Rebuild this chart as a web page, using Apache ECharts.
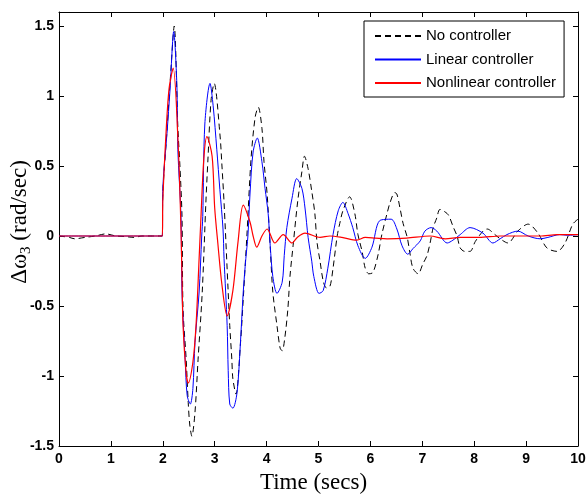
<!DOCTYPE html>
<html><head><meta charset="utf-8">
<script src="https://cdn.jsdelivr.net/npm/echarts@6/dist/echarts.min.js"></script>
<style>html,body{margin:0;padding:0;background:#fff}#c{width:586px;height:494px}</style>
</head><body><div id="c"></div>
<script>
// Tick values
const xTicks = [0,1,2,3,4,5,6,7,8,9,10];
const yTicks = [-1.5,-1,-0.5,0,0.5,1,1.5];
const seriesNames = ['No controller','Linear controller','Nonlinear controller'];

// No controller (black dashed)
const noCtrlT = [0,0.2,0.3,0.5,0.7,0.9,1.1,1.3,1.45,1.6,1.8,1.99,2.0,2.08,2.15,2.22,2.29,2.33,2.37,2.39,2.45,2.49,2.52,2.56,2.62,2.68,2.76,2.83,2.87,2.93,2.99,3.1,3.14,3.18,3.26,3.29,3.33,3.35,3.41,3.5,3.55,3.62,3.7,3.78,3.84,3.91,3.95,4.01,4.07,4.12,4.2,4.26,4.3,4.35,4.41,4.45,4.51,4.6,4.68,4.73,4.8,4.87,4.93,4.97,5.03,5.09,5.15,5.22,5.28,5.36,5.41,5.47,5.6,5.7,5.76,5.84,5.9,5.97,6.05,6.15,6.22,6.32,6.38,6.47,6.51,6.57,6.63,6.71,6.76,6.82,6.92,7.01,7.09,7.15,7.21,7.28,7.34,7.48,7.53,7.59,7.67,7.73,7.82,7.92,8.02,8.17,8.25,8.4,8.5,8.65,8.84,9.04,9.23,9.4,9.6,9.75,9.9,10];
const noCtrlV = [0,-0.01,-0.02,-0.01,0,0.015,0,-0.005,-0.01,0,0,0,0.3,0.75,1.15,1.5,0.78,0.5,0.14,-0.52,-0.88,-1.19,-1.35,-1.43,-1.26,-0.88,-0.4,0.24,0.55,0.97,1.09,0.73,0.5,0.24,-0.4,-0.64,-0.88,-1.02,-1.13,-0.75,-0.45,0.0,0.55,0.85,0.92,0.77,0.53,0.3,-0.08,-0.4,-0.64,-0.8,-0.82,-0.73,-0.52,-0.29,-0.07,0.25,0.46,0.57,0.48,0.32,0.16,-0.04,-0.18,-0.32,-0.37,-0.36,-0.23,0.0,0.09,0.18,0.28,0.16,0.01,-0.11,-0.23,-0.27,-0.26,-0.13,0.01,0.16,0.24,0.31,0.3,0.2,0.09,-0.01,-0.12,-0.23,-0.27,-0.2,-0.14,-0.05,0.06,0.13,0.19,0.16,0.13,0.07,0.0,-0.085,-0.11,-0.11,-0.04,0.035,0.05,0.01,-0.02,-0.05,0.035,0.085,0.02,-0.085,-0.11,-0.05,0.085,0.12];

// Linear controller (blue)
const linT = [0,1.99,2.0,2.08,2.14,2.21,2.27,2.29,2.35,2.37,2.43,2.47,2.53,2.58,2.62,2.7,2.75,2.77,2.81,2.91,2.97,3.04,3.1,3.16,3.18,3.24,3.26,3.29,3.35,3.43,3.49,3.55,3.6,3.64,3.68,3.74,3.82,3.91,3.97,4.03,4.07,4.12,4.2,4.3,4.34,4.39,4.49,4.58,4.68,4.74,4.8,4.87,4.91,5.01,5.09,5.18,5.28,5.38,5.47,5.57,5.66,5.76,5.9,6.03,6.18,6.4,6.51,6.61,6.72,6.82,6.96,7.05,7.17,7.28,7.48,7.59,7.73,7.92,8.17,8.36,8.5,8.63,8.84,9.04,9.27,9.42,9.65,9.8,10];
const linV = [0,0,0.34,0.73,1.05,1.46,1.09,0.62,0.14,-0.4,-0.88,-1.14,-1.2,-1.09,-0.76,-0.4,0.0,0.14,0.8,1.09,0.93,0.62,0.33,0.05,-0.16,-0.64,-0.96,-1.2,-1.23,-1.12,-0.8,-0.4,-0.16,0.0,0.3,0.6,0.7,0.53,0.34,0.16,-0.07,-0.29,-0.41,-0.33,-0.14,0.06,0.27,0.41,0.34,0.2,-0.01,-0.18,-0.29,-0.41,-0.39,-0.23,0.01,0.18,0.24,0.16,0.06,-0.07,-0.16,-0.08,0.11,0.12,0.05,-0.07,-0.13,-0.09,-0.035,0.035,0.06,0.035,-0.05,-0.03,0.01,0.06,0.02,-0.05,-0.02,0.01,0.035,0.0,-0.02,-0.01,0.01,0.005,0.01];

// Nonlinear controller (red)
const nlT = [0,1.99,2.0,2.06,2.12,2.2,2.3,2.35,2.37,2.39,2.45,2.49,2.58,2.64,2.7,2.73,2.79,2.85,2.95,3.0,3.06,3.14,3.24,3.35,3.45,3.55,3.68,3.74,3.81,3.91,4.01,4.16,4.32,4.49,4.59,4.74,5.03,5.22,5.45,5.74,5.9,6.1,6.32,6.7,7.15,7.44,7.73,8.1,8.5,8.88,9.27,9.6,9.85,10];
const nlV = [0,0,0.25,0.72,1.05,1.2,0.62,0.05,-0.3,-0.64,-0.98,-1.05,-0.9,-0.64,-0.16,0.09,0.55,0.71,0.57,0.2,-0.05,-0.35,-0.57,-0.39,-0.04,0.22,0.1,0.0,-0.08,0.0,0.05,-0.05,0.01,-0.05,-0.01,0.02,-0.01,0.0,-0.01,-0.03,-0.01,-0.015,-0.02,-0.015,0.0,-0.02,-0.01,-0.01,0.0,0.0,0.0,0.01,0.01,0.01];

const zip = (t, v) => t.map((x, i) => [x, v[i]]);

const chart = echarts.init(document.getElementById('c'), null, {renderer: 'canvas'});
const tickFont = {fontFamily: 'Liberation Sans', fontSize: 14, fontWeight: 'bold', color: '#000'};
const axisLine = {show: true, onZero: false, lineStyle: {color: '#000', width: 1}};
const axisTick = {show: true, inside: true, length: 5, lineStyle: {color: '#000', width: 1}};

chart.setOption({
  animation: false,
  backgroundColor: '#fff',
  grid: {left: 59, right: 8, top: 12, bottom: 48, containLabel: false, outerBoundsMode: 'none'},
  legend: {
    data: seriesNames,
    orient: 'vertical',
    left: 364, top: 21,
    padding: [7, 8, 6, 10],
    itemGap: 7.5,
    itemWidth: 46, itemHeight: 14,
    borderColor: '#000', borderWidth: 1, borderRadius: 0,
    backgroundColor: '#fff',
    itemStyle: {color: 'rgba(0,0,0,0)', borderWidth: 0, borderColor: 'rgba(0,0,0,0)'},
    textStyle: {fontFamily: 'Liberation Sans', fontSize: 15, color: '#000', lineHeight: 16}
  },
  xAxis: [{
    type: 'value', min: xTicks[0], max: xTicks[xTicks.length - 1], interval: 1,
    position: 'bottom',
    axisLine, axisTick, splitLine: {show: false},
    axisLabel: Object.assign({margin: 6}, tickFont),
    name: 'Time (secs)', nameLocation: 'middle', nameGap: 25, nameMoveOverlap: false,
    nameTextStyle: {fontFamily: 'Liberation Serif', fontSize: 23, color: '#000', padding: [0, 10, 0, 0]}
  }, {
    type: 'value', min: 0, max: 10, interval: 1, position: 'top',
    axisLine, axisTick, splitLine: {show: false}, axisLabel: {show: false}
  }],
  yAxis: [{
    type: 'value', min: yTicks[0], max: 1.6, interval: 0.5,
    position: 'left',
    axisLine, axisTick, splitLine: {show: false},
    axisLabel: Object.assign({margin: 5, showMaxLabel: false}, tickFont),
    name: '{a|Δω}{s|3}{a| (rad/sec)}', nameLocation: 'middle', nameGap: 25, nameMoveOverlap: false,
    nameTextStyle: {
      fontFamily: 'Liberation Serif', fontSize: 23, color: '#000',
      padding: [0, 0, 0, 14],
      rich: {
        a: {fontFamily: 'Liberation Serif', fontSize: 23, color: '#000', lineHeight: 28},
        s: {fontFamily: 'Liberation Serif', fontSize: 15, color: '#000', lineHeight: 14, verticalAlign: 'bottom'}
      }
    }
  }, {
    type: 'value', min: -1.5, max: 1.6, interval: 0.5, position: 'right',
    axisLine, axisTick, splitLine: {show: false}, axisLabel: {show: false}
  }],
  series: [{
    name: seriesNames[0], type: 'line', data: zip(noCtrlT, noCtrlV),
    symbol: 'none', smooth: 0.3,
    lineStyle: {color: '#000', width: 1, type: [6, 4]}, itemStyle: {color: '#000'}
  }, {
    name: seriesNames[1], type: 'line', data: zip(linT, linV),
    symbol: 'none', smooth: 0.3,
    lineStyle: {color: '#0000ff', width: 1}, itemStyle: {color: '#0000ff'}
  }, {
    name: seriesNames[2], type: 'line', data: zip(nlT, nlV),
    symbol: 'none', smooth: 0.3,
    lineStyle: {color: '#ff0000', width: 1.2}, itemStyle: {color: '#ff0000'}
  }]
});
</script>
</body></html>
